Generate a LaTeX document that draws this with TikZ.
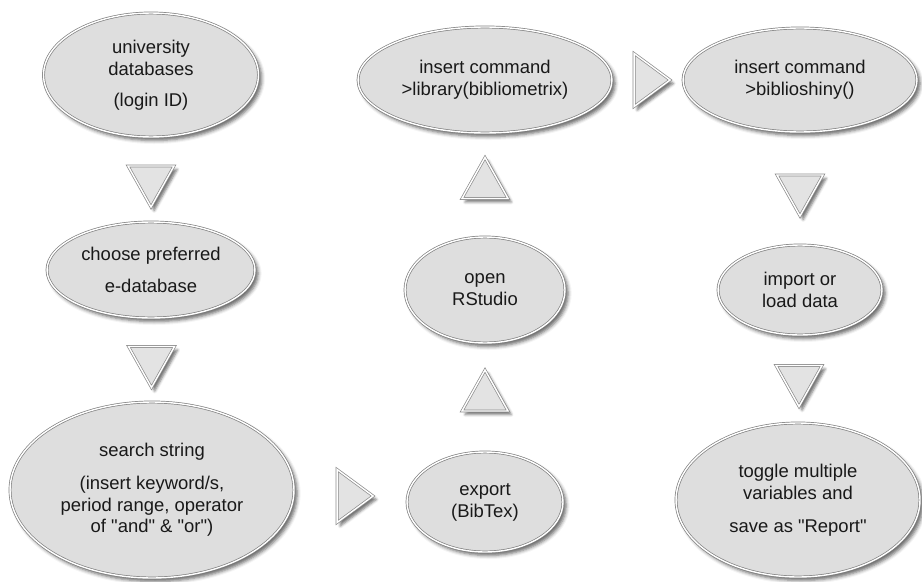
\documentclass[tikz,border=0pt]{standalone}
\usepackage{fontspec}
\setmainfont{Liberation Sans}
\usetikzlibrary{shapes.geometric,calc,shadows.blur}

\tikzset{
  step box/.style={ellipse, draw=black!50, double=white, double distance=0.8pt, line width=0.4pt,
    fill=black!13, text=black!90, align=center, inner sep=0pt, font=\fontsize{10.5}{12.5}\selectfont,
    blur shadow={shadow xshift=1.8pt, shadow yshift=-2pt, shadow blur radius=2pt, shadow opacity=60}},
  tri/.style={isosceles triangle, isosceles triangle stretches, draw=black!45, double=white,
    double distance=0.8pt, line width=0.4pt, fill=black!11, inner sep=0pt,
    blur shadow={shadow xshift=1.8pt, shadow yshift=-2pt, shadow blur radius=1.5pt, shadow opacity=55}},
  vtri/.style={tri, minimum width=0.92cm, minimum height=0.82cm},
  htri/.style={tri, minimum width=1.06cm, minimum height=0.72cm}
}

\begin{document}
\begin{tikzpicture}[x=0.02cm, y=-0.02cm]
\useasboundingbox (0,0) rectangle (922,581);

% left column
\node[step box, minimum width=4.3cm, minimum height=2.48cm] (db) at (151,75) {university\\ databases\\[5pt] (login ID)};
\node[step box, minimum width=4.16cm, minimum height=1.92cm] (choose) at (151,270) {choose preferred\\[6pt] e-database};
\node[step box, minimum width=5.68cm, minimum height=3.52cm] (search) at (152,490) {search string\\[6pt] (insert keyword/s,\\ period range, operator\\ of \textquotedbl and\textquotedbl\ \& \textquotedbl or\textquotedbl)};

% middle column
\node[step box, minimum width=3.12cm, minimum height=2.0cm] (export) at (485,502) {export\\ (BibTex)};
\node[step box, minimum width=3.2cm, minimum height=2.12cm] (rstudio) at (485,290) {open\\ RStudio};
\node[step box, minimum width=5.08cm, minimum height=2.12cm] (library) at (485,80) {insert command\\ >library(bibliometrix)};

% right column
\node[step box, minimum width=4.68cm, minimum height=2.08cm] (shiny) at (800,80) {insert command\\ >biblioshiny()};
\node[step box, minimum width=3.28cm, minimum height=1.8cm] (import) at (800,290) {import or\\ load data};
\node[step box, minimum width=4.88cm, minimum height=3.08cm] (report) at (798,500) {toggle multiple\\ variables and\\[6pt] save as \textquotedbl Report\textquotedbl};

% arrow triangles
\foreach \a/\sa/\b/\sb/\r/\st in {db/south/choose/north/270/vtri, choose/south/search/north/270/vtri,
  search/east/export/west/0/htri, export/north/rstudio/south/90/vtri, rstudio/north/library/south/90/vtri,
  library/east/shiny/west/0/htri, shiny/south/import/north/270/vtri, import/south/report/north/270/vtri}{
  \node[\st, shape border rotate=\r] (t-\a) at ($(\a.\sa)!0.5!(\b.\sb)$) {};
}
\end{tikzpicture}
\end{document}
